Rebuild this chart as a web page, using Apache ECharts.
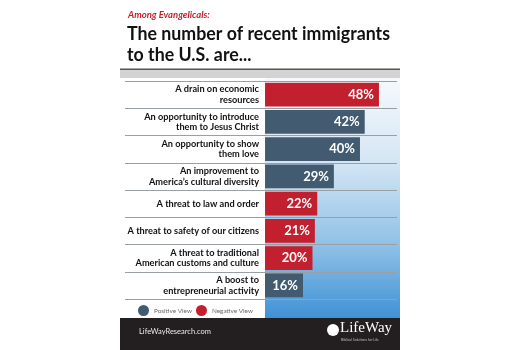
<!DOCTYPE html>
<html><head><meta charset="utf-8">
<script src="https://cdn.jsdelivr.net/npm/echarts@6/dist/echarts.min.js"></script>
<style>html,body{margin:0;padding:0;background:#fff}#c{width:520px;height:350px}</style>
</head><body><div id="c"></div>
<script>
const categories = [
  "A drain on economic\nresources",
  "An opportunity to introduce\nthem to Jesus Christ",
  "An opportunity to show\nthem love",
  "An improvement to\nAmerica\u2019s cultural diversity",
  "A threat to law and order",
  "A threat to safety of our citizens",
  "A threat to traditional\nAmerican customs and culture",
  "A boost to\nentrepreneurial activity"
];
const values = [48, 42, 40, 29, 22, 21, 20, 16];
const views = ["neg", "pos", "pos", "pos", "neg", "neg", "neg", "pos"];
const legendNames = ["Positive View", "Negative View"];

const RED = "#c3202f", BLUE = "#425b71";
const posData = values.map((v, i) => views[i] === "pos" ? v : null);
const negData = values.map((v, i) => views[i] === "neg" ? v : null);

const chart = echarts.init(document.getElementById('c'), null, {renderer: 'canvas'});
const FONT = 'Lato';
const labelCfg = {show: true, position: 'insideRight', distance: 5, color: '#fff', fontFamily: FONT, fontWeight: 'bold', fontSize: 13, formatter: '{c}%'};
chart.setOption({
  animation: false,
  grid: {left: 125, right: 123, top: 81, height: 218, containLabel: false, outerBoundsMode: 'none'},
  xAxis: {type: 'value', min: -59, max: 55.6, show: false},
  yAxis: {
    type: 'category', data: categories, inverse: true,
    axisLine: {show: false, onZero: false}, axisTick: {show: false},
    axisLabel: {margin: -134, align: 'right', fontFamily: FONT, fontWeight: 'bold', fontSize: 9.2, color: '#111', lineHeight: 10.5},
    splitLine: {show: true, lineStyle: {color: '#9a9fa4', width: 1}}
  },
  legend: {
    data: legendNames, left: 138, top: 305, icon: 'circle', itemWidth: 11, itemHeight: 11, itemGap: 4,
    textStyle: {fontFamily: FONT, fontSize: 6.4, color: '#6a6a6a'}, selectedMode: false, padding: 0
  },
  series: [
    {name: legendNames[0], type: 'bar', data: posData, barCategoryGap: '13%', barGap: '-100%', itemStyle: {color: BLUE}, label: labelCfg},
    {name: legendNames[1], type: 'bar', data: negData, barCategoryGap: '13%', barGap: '-100%', itemStyle: {color: RED}, label: labelCfg}
  ],
  graphic: [
    {type: 'rect', z: -10, shape: {x: 265, y: 78, width: 135, height: 240},
      style: {fill: new echarts.graphic.LinearGradient(0, 0, 0, 1, [
        {offset: 0, color: '#f6f9fc'}, {offset: 0.35, color: '#d4e6f4'}, {offset: 0.7, color: '#8fc0e6'}, {offset: 1, color: '#3f92d5'}])}},
    {type: 'rect', z: 10, shape: {x: 120, y: 68.5, width: 280, height: 1.5}, style: {fill: '#555'}},
    {type: 'rect', z: 10, shape: {x: 120, y: 70, width: 280, height: 8}, style: {fill: '#d3d3d3'}},
    {type: 'text', left: 128, top: 10, style: {text: 'Among Evangelicals:', fill: '#c3202f', font: 'italic bold 9.5px Lato'}},
    {type: 'text', x: 127, y: 23, scaleX: 0.935, style: {text: 'The number of recent immigrants\nto the U.S. are...', fill: '#111', font: 'bold 19px Lato', lineHeight: 21}},
    {type: 'rect', z: 10, shape: {x: 120, y: 318, width: 280, height: 32}, style: {fill: '#231f20'}},
    {type: 'text', z: 11, left: 139, top: 328, style: {text: 'LifeWayResearch.com', fill: '#e8e8e8', font: '7.5px Lato'}},
    {type: 'circle', z: 11, shape: {cx: 333, cy: 330, r: 6}, style: {fill: '#fff'}},
    {type: 'text', z: 11, left: 340, top: 321, style: {text: 'LifeWay', fill: '#fff', font: '15px "Liberation Serif"'}},
    {type: 'text', z: 11, left: 341, top: 338, style: {text: 'Biblical Solutions for Life', fill: '#bbb', font: '3.5px Lato'}}
  ]
});
</script></body></html>
